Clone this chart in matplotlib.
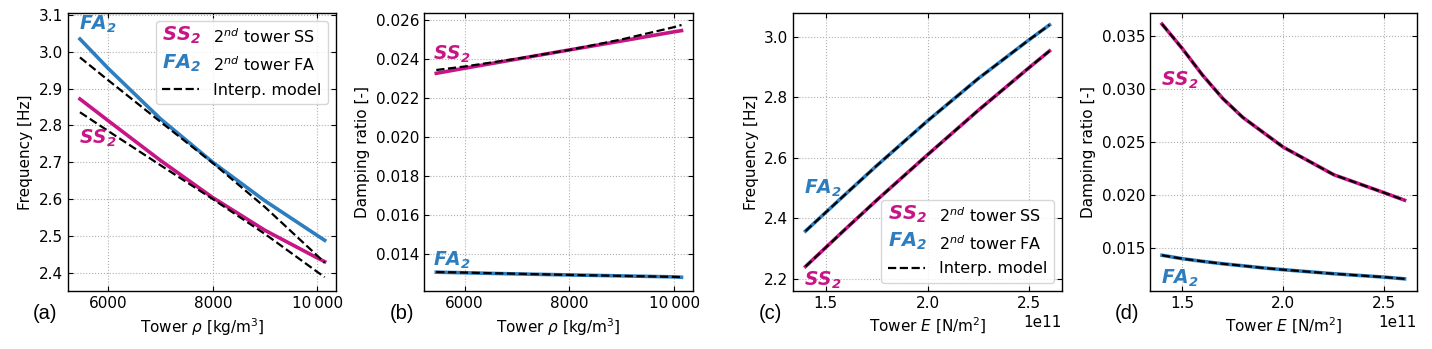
import numpy as np
import matplotlib
matplotlib.use('Agg')
import matplotlib.pyplot as plt
import matplotlib.text as mtext
from matplotlib.lines import Line2D
from matplotlib.ticker import FixedLocator, FuncFormatter

# tower density [kg/m3] samples for panels (a) and (b)
rho = [5460, 6000, 7000, 8000, 9000, 10000, 10140]
freq_ss_rho = [2.872, 2.813, 2.705, 2.604, 2.515, 2.440, 2.430]
freq_ss_rho_interp = [2.836, 2.785, 2.692, 2.600, 2.505, 2.402, 2.388]
freq_fa_rho = [3.035, 2.955, 2.818, 2.700, 2.595, 2.501, 2.488]
freq_fa_rho_interp = [2.985, 2.923, 2.810, 2.698, 2.578, 2.446, 2.427]

damp_ss_rho = [0.02326, 0.02352, 0.02399, 0.02446, 0.02492, 0.02539, 0.02545]
damp_ss_rho_interp = [0.02343, 0.02361, 0.02401, 0.02446, 0.02500, 0.02563, 0.02574]
damp_fa_rho = [0.01306, 0.01303, 0.01297, 0.01292, 0.01287, 0.01282, 0.01280]
damp_fa_rho_interp = [0.01307, 0.01304, 0.01298, 0.01292, 0.01287, 0.01282, 0.01281]

# tower Young's modulus [N/m2] samples for panel (c)
E_freq = [1.40e11, 1.50e11, 1.60e11, 1.75e11, 2.00e11, 2.25e11, 2.50e11, 2.60e11]
freq_ss_E = [2.241, 2.304, 2.367, 2.460, 2.610, 2.757, 2.898, 2.953]
freq_fa_E = [2.358, 2.420, 2.482, 2.574, 2.722, 2.862, 2.990, 3.039]

# tower Young's modulus [N/m2] samples for panel (d)
E_damp = [1.40e11, 1.50e11, 1.60e11, 1.70e11, 1.80e11, 1.90e11, 2.00e11,
          2.25e11, 2.50e11, 2.60e11]
damp_ss_E = [0.0361, 0.0338, 0.0313, 0.0291, 0.0273, 0.0259, 0.0245,
             0.0219, 0.0202, 0.0195]
damp_fa_E = [0.01431, 0.01399, 0.01374, 0.01351, 0.01332, 0.01312, 0.01295,
             0.01257, 0.01225, 0.01209]

# interpolation model sits on top of the reference curves here
freq_ss_E_interp = freq_ss_E
freq_fa_E_interp = freq_fa_E
damp_ss_E_interp = damp_ss_E
damp_fa_E_interp = damp_fa_E

SS_COLOR = '#c71585'
FA_COLOR = '#2e7ebf'
SS_LABEL = r'$\mathbfit{SS}_\mathbfit{2}$'
FA_LABEL = r'$\mathbfit{FA}_\mathbfit{2}$'

FS = 11
LEG_FS = 11.5
TAG_FS = 13.5
plt.rcParams['font.size'] = FS


class TextHandle:
    def __init__(self, text, color):
        self.text = text
        self.color = color


class TextHandler:
    def legend_artist(self, legend, orig_handle, fontsize, handlebox):
        t = mtext.Text(-handlebox.xdescent, -handlebox.ydescent - 2,
                       orig_handle.text, color=orig_handle.color,
                       fontsize=14, ha='left', va='bottom')
        handlebox.add_artist(t)
        return t


def style_axis(ax):
    ax.tick_params(direction='in', top=True, right=True, labelsize=FS)
    ax.grid(True, linestyle=':', color='#b0b0b0', linewidth=0.8)
    for s in ax.spines.values():
        s.set_linewidth(1.0)


def add_legend(ax, loc):
    handles = [TextHandle(SS_LABEL, SS_COLOR), TextHandle(FA_LABEL, FA_COLOR),
               Line2D([], [], color='k', ls='--', lw=1.6)]
    labels = [r'2$^{nd}$ tower SS', r'2$^{nd}$ tower FA', 'Interp. model']
    ax.legend(handles, labels, loc=loc, fontsize=LEG_FS, handlelength=2.3,
              handletextpad=0.9, labelspacing=0.55,
              handler_map={TextHandle: TextHandler()})


def rho_fmt(v, pos):
    s = '%d' % v
    if v >= 10000:
        s = s[:-3] + '\u2009' + s[-3:]
    return s


fig = plt.figure(figsize=(14.32, 3.49), dpi=100)
bottom, height = 0.167, 0.795
ax_a = fig.add_axes([0.0473, bottom, 0.1874, height])
ax_b = fig.add_axes([0.2961, bottom, 0.1878, height])
ax_c = fig.add_axes([0.5540, bottom, 0.1874, height])
ax_d = fig.add_axes([0.8030, bottom, 0.1863, height])

lw_s, lw_d = 2.6, 1.6

# (a) frequency vs density
ax_a.plot(rho, freq_fa_rho, color=FA_COLOR, lw=lw_s)
ax_a.plot(rho, freq_ss_rho, color=SS_COLOR, lw=lw_s)
ax_a.plot(rho, freq_fa_rho_interp, 'k--', lw=lw_d)
ax_a.plot(rho, freq_ss_rho_interp, 'k--', lw=lw_d)
ax_a.set_xlim(5226, 10358)
ax_a.set_ylim(2.351, 3.105)
ax_a.set_ylabel('Frequency [Hz]', fontsize=FS)
ax_a.text(5440, 3.075, FA_LABEL, color=FA_COLOR, fontsize=TAG_FS, va='center')
ax_a.text(5440, 2.765, SS_LABEL, color=SS_COLOR, fontsize=TAG_FS, va='center')
add_legend(ax_a, 'upper right')

# (b) damping vs density
ax_b.plot(rho, damp_ss_rho, color=SS_COLOR, lw=lw_s)
ax_b.plot(rho, damp_fa_rho, color=FA_COLOR, lw=lw_s)
ax_b.plot(rho, damp_ss_rho_interp, 'k--', lw=lw_d)
ax_b.plot(rho, damp_fa_rho_interp, 'k--', lw=lw_d)
ax_b.set_xlim(5226, 10358)
ax_b.set_ylim(0.01211, 0.02634)
ax_b.set_yticks(np.arange(0.014, 0.0261, 0.002))
ax_b.set_ylabel('Damping ratio [-]', fontsize=FS)
ax_b.text(5400, 0.02425, SS_LABEL, color=SS_COLOR, fontsize=TAG_FS, va='center')
ax_b.text(5400, 0.01365, FA_LABEL, color=FA_COLOR, fontsize=TAG_FS, va='center')

for ax in (ax_a, ax_b):
    ax.xaxis.set_major_locator(FixedLocator([6000, 8000, 10000]))
    ax.xaxis.set_major_formatter(FuncFormatter(rho_fmt))
    ax.set_xlabel(r'Tower $\rho$ [kg/m$^3$]', fontsize=FS)

# (c) frequency vs Young's modulus
ax_c.plot(E_freq, freq_fa_E, color=FA_COLOR, lw=lw_s)
ax_c.plot(E_freq, freq_ss_E, color=SS_COLOR, lw=lw_s)
ax_c.plot(E_freq, freq_fa_E_interp, 'k--', lw=lw_d)
ax_c.plot(E_freq, freq_ss_E_interp, 'k--', lw=lw_d)
ax_c.set_ylim(2.161, 3.0775)
ax_c.set_yticks([2.2, 2.4, 2.6, 2.8, 3.0])
ax_c.set_ylabel('Frequency [Hz]', fontsize=FS)
ax_c.text(1.392e11, 2.50, FA_LABEL, color=FA_COLOR, fontsize=TAG_FS, va='center')
ax_c.text(1.392e11, 2.194, SS_LABEL, color=SS_COLOR, fontsize=TAG_FS, va='center')
add_legend(ax_c, 'lower right')

# (d) damping vs Young's modulus
ax_d.plot(E_damp, damp_ss_E, color=SS_COLOR, lw=lw_s)
ax_d.plot(E_damp, damp_fa_E, color=FA_COLOR, lw=lw_s)
ax_d.plot(E_damp, damp_ss_E_interp, 'k--', lw=lw_d)
ax_d.plot(E_damp, damp_fa_E_interp, 'k--', lw=lw_d)
ax_d.set_ylim(0.01097, 0.03712)
ax_d.set_yticks([0.015, 0.020, 0.025, 0.030, 0.035])
ax_d.set_ylabel('Damping ratio [-]', fontsize=FS)
ax_d.text(1.393e11, 0.0308, SS_LABEL, color=SS_COLOR, fontsize=TAG_FS, va='center')
ax_d.text(1.393e11, 0.01213, FA_LABEL, color=FA_COLOR, fontsize=TAG_FS, va='center')

for ax in (ax_c, ax_d):
    ax.set_xlim(1.34e11, 2.66e11)
    ax.set_xticks([1.5e11, 2.0e11, 2.5e11])
    ax.set_xlabel(r'Tower $E$ [N/m$^2$]', fontsize=FS)

for ax in (ax_a, ax_b, ax_c, ax_d):
    style_axis(ax)
    ax.xaxis.get_offset_text().set_fontsize(FS)

for lbl, xp in zip(['(a)', '(b)', '(c)', '(d)'], [33, 390, 759, 1115]):
    fig.text(xp / 1432, 1 - 313.5 / 349, lbl, fontsize=14.5,
             family='Liberation Sans', va='center', ha='left')

fig.savefig('out.png', dpi=100)
